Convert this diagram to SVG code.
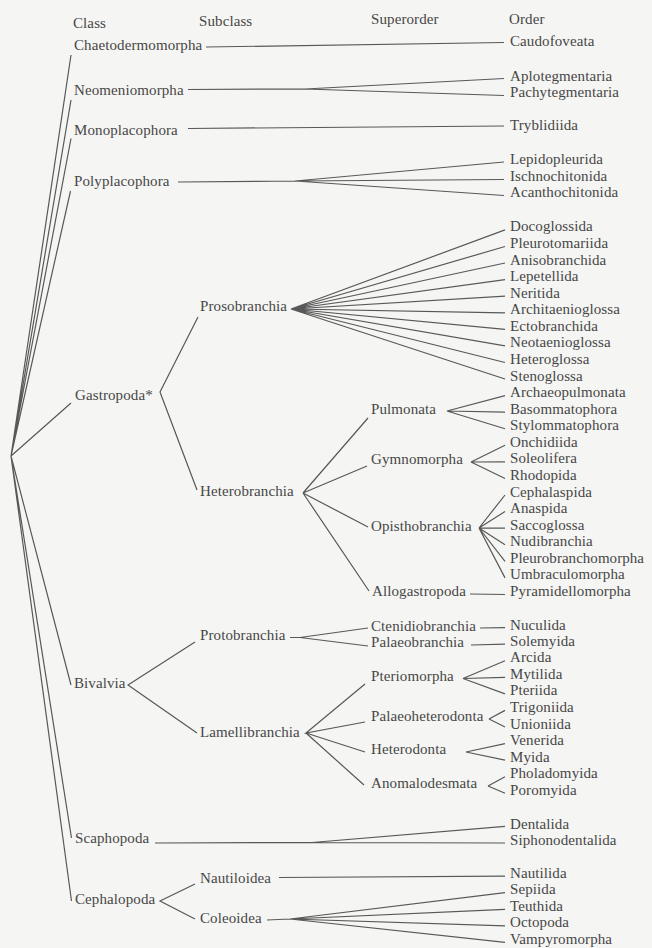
<svg xmlns="http://www.w3.org/2000/svg" width="652" height="948" viewBox="0 0 652 948">
<style>
text{font-family:"Liberation Serif","Times New Roman",serif;font-size:15px;fill:#474747;letter-spacing:0.1px}
.c{fill:none;stroke:#585858;stroke-width:1.2;stroke-linejoin:miter;stroke-linecap:butt}
</style>
<rect width="652" height="948" fill="#f5f5f3"/>
<g id="headers">
<text x="73" y="28">Class</text>
<text x="199" y="25.5">Subclass</text>
<text x="371" y="24">Superorder</text>
<text x="509" y="23.5">Order</text>
</g>
<g id="connectors" class="c">
<path d="M11 456L71 55M11 456L71 100M11 456L71 138.5M11 456L70.5 191M11 456L71 403M11 456L71 685M11 456L71.5 838M11 456L71.5 901"/>
<path d="M206 47L504 42.5"/>
<path d="M188 89.5L305 89L504 78.5M305 89L504 95.5"/>
<path d="M188 128.5L504 126"/>
<path d="M178 182L295 181L504 162M295 181L504 179.5M295 181L504 195.5"/>
<path d="M198 317L160 392L197 490"/>
<path d="M291 309L505 229.9M291 309L505 246.5M291 309L505 263M291 309L505 279.6M291 309L505 296.2M291 309L505 312.8M291 309L505 329.3M291 309L505 345.9M291 309L505 362.5M291 309L505 379"/>
<path d="M303 493L368 418M303 493L367 466M303 493L368 527M303 493L369 591"/>
<path d="M447 411L505 395.6M447 411L505 412.2M447 411L505 428.7"/>
<path d="M471 462L505 445.3M471 462L505 461.9M471 462L505 478.5"/>
<path d="M479 528L505 495M479 528L505 511.6M479 528L505 528.2M479 528L505 544.7M479 528L505 561.3M479 528L505 577.9"/>
<path d="M470 594L505 594.5"/>
<path d="M195 642L128 685L197 733"/>
<path d="M290 637.5L300 637.5L368 628M300 637.5L368 646"/>
<path d="M480 628L505 627.6"/>
<path d="M471 645L505 644.2"/>
<path d="M365 684L306 733L365 722M306 733L365 752M306 733L364 785"/>
<path d="M463 678.5L505 660.7M463 678.5L505 677.3M463 678.5L505 693.9"/>
<path d="M489 719L505 710.4M489 719L505 727"/>
<path d="M466 752L505 743.6M466 752L505 760.1"/>
<path d="M488 786L505 776.7M488 786L505 793.3"/>
<path d="M155 843L312 842.5L505 826.4M312 842.5L505 843"/>
<path d="M195 884L160 901L195 919"/>
<path d="M279 877.5L505 876.1"/>
<path d="M267 920L290 919L505 892.7M290 919L505 909.3M290 919L505 925.8M290 919L505 942.4"/>
</g>
<g id="n-chaetodermomorpha"><text x="74" y="50">Chaetodermomorpha</text></g>
<g id="n-neomeniomorpha"><text x="74" y="95">Neomeniomorpha</text></g>
<g id="n-monoplacophora"><text x="74" y="135">Monoplacophora</text></g>
<g id="n-polyplacophora"><text x="74" y="186">Polyplacophora</text></g>
<g id="n-gastropoda"><text x="75" y="400">Gastropoda*</text></g>
<g id="n-bivalvia"><text x="74" y="688">Bivalvia</text></g>
<g id="n-scaphopoda"><text x="75" y="843">Scaphopoda</text></g>
<g id="n-cephalopoda"><text x="75" y="904">Cephalopoda</text></g>
<g id="n-prosobranchia"><text x="200" y="311">Prosobranchia</text></g>
<g id="n-heterobranchia"><text x="200" y="496">Heterobranchia</text></g>
<g id="n-protobranchia"><text x="200" y="640">Protobranchia</text></g>
<g id="n-lamellibranchia"><text x="200" y="736.5">Lamellibranchia</text></g>
<g id="n-nautiloidea"><text x="200" y="883">Nautiloidea</text></g>
<g id="n-coleoidea"><text x="200" y="923">Coleoidea</text></g>
<g id="n-pulmonata"><text x="371" y="414">Pulmonata</text></g>
<g id="n-gymnomorpha"><text x="371" y="463.5">Gymnomorpha</text></g>
<g id="n-opisthobranchia"><text x="371" y="531">Opisthobranchia</text></g>
<g id="n-allogastropoda"><text x="372" y="596">Allogastropoda</text></g>
<g id="n-ctenidiobranchia"><text x="371" y="631">Ctenidiobranchia</text></g>
<g id="n-palaeobranchia"><text x="371" y="647">Palaeobranchia</text></g>
<g id="n-pteriomorpha"><text x="371" y="681">Pteriomorpha</text></g>
<g id="n-palaeoheterodonta"><text x="371" y="721">Palaeoheterodonta</text></g>
<g id="n-heterodonta"><text x="371" y="753.5">Heterodonta</text></g>
<g id="n-anomalodesmata"><text x="371" y="787.5">Anomalodesmata</text></g>
<g id="n-caudofoveata"><text x="510" y="46">Caudofoveata</text></g>
<g id="n-aplotegmentaria"><text x="510" y="80.5">Aplotegmentaria</text></g>
<g id="n-pachytegmentaria"><text x="510" y="97">Pachytegmentaria</text></g>
<g id="n-tryblidiida"><text x="510" y="130">Tryblidiida</text></g>
<g id="n-lepidopleurida"><text x="510" y="163.5">Lepidopleurida</text></g>
<g id="n-ischnochitonida"><text x="510" y="180.5">Ischnochitonida</text></g>
<g id="n-acanthochitonida"><text x="510" y="197">Acanthochitonida</text></g>
<g id="n-docoglossida"><text x="510" y="231.4">Docoglossida</text></g>
<g id="n-pleurotomariida"><text x="510" y="248">Pleurotomariida</text></g>
<g id="n-anisobranchida"><text x="510" y="264.5">Anisobranchida</text></g>
<g id="n-lepetellida"><text x="510" y="281.1">Lepetellida</text></g>
<g id="n-neritida"><text x="510" y="297.7">Neritida</text></g>
<g id="n-architaenioglossa"><text x="510" y="314.3">Architaenioglossa</text></g>
<g id="n-ectobranchida"><text x="510" y="330.8">Ectobranchida</text></g>
<g id="n-neotaenioglossa"><text x="510" y="347.4">Neotaenioglossa</text></g>
<g id="n-heteroglossa"><text x="510" y="364">Heteroglossa</text></g>
<g id="n-stenoglossa"><text x="510" y="380.5">Stenoglossa</text></g>
<g id="n-archaeopulmonata"><text x="510" y="397.1">Archaeopulmonata</text></g>
<g id="n-basommatophora"><text x="510" y="413.7">Basommatophora</text></g>
<g id="n-stylommatophora"><text x="510" y="430.2">Stylommatophora</text></g>
<g id="n-onchidiida"><text x="510" y="446.8">Onchidiida</text></g>
<g id="n-soleolifera"><text x="510" y="463.4">Soleolifera</text></g>
<g id="n-rhodopida"><text x="510" y="480">Rhodopida</text></g>
<g id="n-cephalaspida"><text x="510" y="496.5">Cephalaspida</text></g>
<g id="n-anaspida"><text x="510" y="513.1">Anaspida</text></g>
<g id="n-saccoglossa"><text x="510" y="529.7">Saccoglossa</text></g>
<g id="n-nudibranchia"><text x="510" y="546.2">Nudibranchia</text></g>
<g id="n-pleurobranchomorpha"><text x="510" y="562.8" textLength="134" lengthAdjust="spacing">Pleurobranchomorpha</text></g>
<g id="n-umbraculomorpha"><text x="510" y="579.4">Umbraculomorpha</text></g>
<g id="n-pyramidellomorpha"><text x="510" y="596">Pyramidellomorpha</text></g>
<g id="n-nuculida"><text x="510" y="629.5">Nuculida</text></g>
<g id="n-solemyida"><text x="510" y="645.8">Solemyida</text></g>
<g id="n-arcida"><text x="510" y="662.2">Arcida</text></g>
<g id="n-mytilida"><text x="510" y="678.8">Mytilida</text></g>
<g id="n-pteriida"><text x="510" y="695.4">Pteriida</text></g>
<g id="n-trigoniida"><text x="510" y="711.9">Trigoniida</text></g>
<g id="n-unioniida"><text x="510" y="728.5">Unioniida</text></g>
<g id="n-venerida"><text x="510" y="745.1">Venerida</text></g>
<g id="n-myida"><text x="510" y="761.6">Myida</text></g>
<g id="n-pholadomyida"><text x="510" y="778.2">Pholadomyida</text></g>
<g id="n-poromyida"><text x="510" y="794.8">Poromyida</text></g>
<g id="n-dentalida"><text x="510" y="828.5">Dentalida</text></g>
<g id="n-siphonodentalida"><text x="510" y="845">Siphonodentalida</text></g>
<g id="n-nautilida"><text x="510" y="877.6">Nautilida</text></g>
<g id="n-sepiida"><text x="510" y="894.2">Sepiida</text></g>
<g id="n-teuthida"><text x="510" y="910.8">Teuthida</text></g>
<g id="n-octopoda"><text x="510" y="927.3">Octopoda</text></g>
<g id="n-vampyromorpha"><text x="510" y="943.9">Vampyromorpha</text></g>
</svg>
